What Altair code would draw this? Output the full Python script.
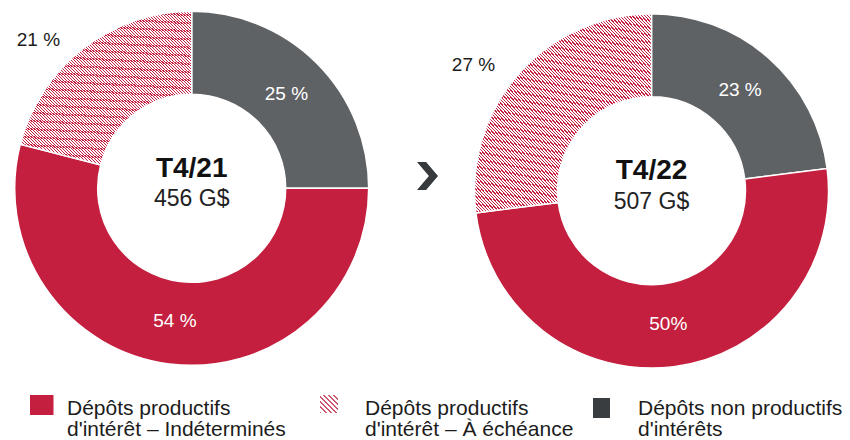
import altair as alt
import pandas as pd

# ---------------- data ----------------
periods = ["T4/21", "T4/22"]
totals = ["456 G$", "507 G$"]
categories = [
    "Dépôts non productifs d'intérêts",
    "Dépôts productifs d'intérêt – Indéterminés",
    "Dépôts productifs d'intérêt – À échéance",
]
shares_t421 = [25, 54, 21]
shares_t422 = [23, 50, 27]
labels_t421 = ["25 %", "54 %", "21 %"]
labels_t422 = ["23 %", "50%", "27 %"]
legend_lines = [
    ["Dépôts productifs", "d'intérêt – Indéterminés"],
    ["Dépôts productifs", "d'intérêt – À échéance"],
    ["Dépôts non productifs", "d'intérêts"],
]

# ---------------- styles / layout ----------------
FONT = "Liberation Sans"
RED = "#C41F3E"
GRAY = "#5F6265"
DARK = "#3A3D40"
TEXT = "#1c1c1c"
centers = [(183.7, 180.3), (643.5, 182.7)]
R_OUT, R_IN = 177, 94


def stripes(n, frac, color):
    stops = []
    for k in range(n):
        a = round(k / n, 5)
        b = round((k + frac) / n, 5)
        c = round((k + 1) / n, 5)
        stops += [
            {"offset": a, "color": color},
            {"offset": b, "color": color},
            {"offset": b, "color": "#ffffff"},
            {"offset": c, "color": "#ffffff"},
        ]
    return {"gradient": "linear", "x1": 0, "y1": 1, "x2": 1, "y2": 0, "stops": stops}


HATCH = stripes(115, 0.42, RED)
HATCH_ICON = stripes(7, 0.38, "#D0566F")

rows = []
for p, shares, labs in [(periods[0], shares_t421, labels_t421), (periods[1], shares_t422, labels_t422)]:
    for i, (c, v, l) in enumerate(zip(categories, shares, labs)):
        rows.append({"period": p, "cat": c, "idx": i, "value": v, "label": l})
df = pd.DataFrame(rows)
one = pd.DataFrame({"k": [0]})

layers = []
for i, p in enumerate(periods):
    cx, cy = centers[i]
    base = alt.Chart(df).transform_filter(alt.datum.period == p)
    theta = alt.Theta("value:Q", stack=True)
    order = alt.Order("idx:Q", sort="ascending")
    arcs = base.mark_arc(innerRadius=R_IN, outerRadius=R_OUT, stroke="white", strokeWidth=1.5).encode(
        theta=theta,
        order=order,
        fill=alt.condition(
            alt.datum.idx == 2,
            alt.value(HATCH),
            alt.Fill("idx:N", scale=alt.Scale(domain=[0, 1, 2], range=[GRAY, RED, "#e6a5b3"]), legend=None),
        ),
        x=alt.value(cx),
        y=alt.value(cy),
    )
    inner = base.mark_text(radius=134, font=FONT, fontSize=19, color="white", align="center", baseline="middle").encode(
        theta=theta,
        order=order,
        text=alt.condition(alt.datum.idx == 2, alt.value(""), alt.Text("label:N")),
        x=alt.value(cx),
        y=alt.value(cy),
    )
    outer = base.mark_text(radius=180, dx=-43, dy=-6.5, font=FONT, fontSize=19, color=TEXT, align="center", baseline="middle").encode(
        theta=theta,
        order=order,
        text=alt.condition(alt.datum.idx == 2, alt.Text("label:N"), alt.value("")),
        x=alt.value(cx),
        y=alt.value(cy),
    )
    title = alt.Chart(one).mark_text(font=FONT, fontSize=28, fontWeight="bold", color="#111", align="center", baseline="middle", dy=-19.5).encode(
        text=alt.value(p), x=alt.value(cx), y=alt.value(cy)
    )
    total = alt.Chart(one).mark_text(font=FONT, fontSize=23, color="#222", align="center", baseline="middle", dy=11).encode(
        text=alt.value(totals[i]), x=alt.value(cx), y=alt.value(cy)
    )
    layers += [arcs, inner, outer, title, total]

# chevron arrow
chevron = alt.Chart(one).mark_point(
    shape="M -0.75 -1 L -0.1 -1 L 0.75 0 L -0.1 1 L -0.75 1 L 0.1 0 Z",
    size=784, filled=True, color="#363A3D", opacity=1,
).encode(x=alt.value(419.5), y=alt.value(168))
layers.append(chevron)

# legend
icon_boxes = [(22, 45.5, 387, 407), (312, 330, 387, 405), (585, 602, 390, 410)]
icon_fills = [RED, HATCH_ICON, DARK]
text_x = [59, 357, 630]
for (x1, x2, y1, y2), f, tx, lines in zip(icon_boxes, icon_fills, text_x, legend_lines):
    layers.append(
        alt.Chart(one).mark_rect(fill=f).encode(
            x=alt.value(x1), x2=alt.value(x2), y=alt.value(y1), y2=alt.value(y2)
        )
    )
    layers.append(
        alt.Chart(one).mark_text(font=FONT, fontSize=21, color=TEXT, align="left", baseline="top", lineHeight=21).encode(
            text=alt.value(lines), x=alt.value(tx), y=alt.value(390)
        )
    )

chart = alt.layer(*layers).properties(width=834, height=436, padding=0, autosize="none").configure_view(stroke=None)
chart.save("out.html", embed_options={"renderer": "svg", "actions": False})
